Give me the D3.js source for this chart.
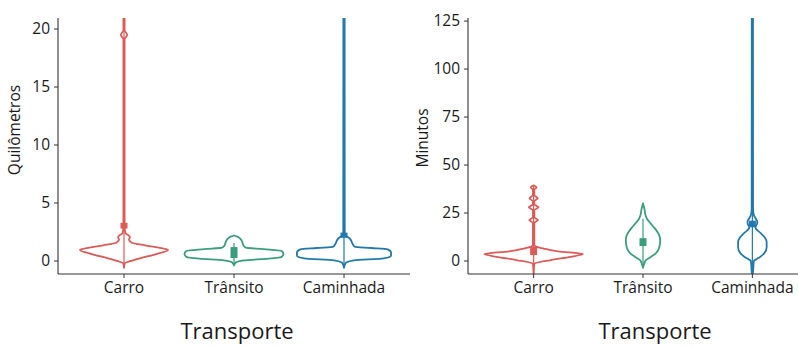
<!DOCTYPE html>
<html>
<head>
<meta charset="utf-8">
<script src="https://cdn.jsdelivr.net/npm/d3@7"></script>
<style>
  body { margin: 0; background: #fff; }
  svg { display: block; font-family: "Open Sans", "Noto Sans", sans-serif; }
</style>
</head>
<body>
<div id="chart"></div>
<script>
// data
const categories = ["Carro", "Trânsito", "Caminhada"];
const colors = ["#dd5b57", "#3a9d7c", "#2279ad"];
const kmTicks = [0, 5, 10, 15, 20];
const minTicks = [0, 25, 50, 75, 100, 125];

// violin outlines: [value, relative half width]
const kmCarro = [[-0.6, 0], [-0.2, 0.015], [0.2, 0.3], [0.6, 0.65], [0.95, 0.89], [1.15, 0.7], [1.35, 0.42], [1.6, 0.15],
  [1.85, 0.1], [2.05, 0.12], [2.25, 0.08], [2.4, 0.03], [3, 0.012], [19.1, 0.012], [19.5, 0.065], [19.9, 0.012], [26, 0.012], [27, 0]];
const kmTransito = [[-0.4, 0], [-0.15, 0.03], [0.05, 0.2], [0.2, 0.7], [0.35, 0.96], [0.6, 1.0], [0.85, 0.97], [1.02, 0.6],
  [1.15, 0.24], [1.35, 0.19], [1.6, 0.17], [1.8, 0.15], [1.95, 0.12], [2.1, 0.07], [2.2, 0]];
const kmCaminhada = [[-0.6, 0], [-0.2, 0.03], [0.05, 0.2], [0.22, 0.8], [0.45, 0.95], [0.75, 0.95], [1.0, 0.88], [1.12, 0.55],
  [1.22, 0.22], [1.5, 0.17], [1.8, 0.14], [2.0, 0.1], [2.15, 0.05], [2.3, 0.015], [26, 0.012], [27, 0]];
const kmBox = [[2.8, 3.3], [0.26, 1.2], [2.0, 2.45]];
const kmLine = [[-0.4, 26], [-0.35, 1.55], [-0.6, 26]];

const minCarro = [[-7, 0], [-1.5, 0.014], [0.5, 0.35], [2.2, 0.75], [3.6, 1.0], [5, 0.5], [6.5, 0.2], [7.5, 0.05], [8.5, 0.014],
  [19.8, 0.014], [21.3, 0.09], [22.8, 0.014], [26.5, 0.014], [28, 0.1], [29.5, 0.014], [31.2, 0.014], [32.7, 0.085], [34.2, 0.014],
  [37.2, 0.014], [38.4, 0.06], [39.4, 0]];
const minTransito = [[-3.6, 0], [-1, 0.03], [0.5, 0.06], [2, 0.15], [4, 0.26], [7, 0.33], [10.9, 0.35], [14, 0.32], [17, 0.24],
  [19.7, 0.15], [22, 0.08], [24, 0.05], [27, 0.03], [30, 0]];
const minCaminhada = [[-8, 0], [-6, 0.012], [0, 0.03], [0.8, 0.07], [2, 0.15], [4, 0.24], [7, 0.29], [9.9, 0.29], [12, 0.26],
  [14.5, 0.17], [16.5, 0.08], [17.6, 0.06], [19, 0.09], [20.5, 0.1], [22, 0.07], [24, 0.03], [27, 0.014], [140, 0.012]];
const minBox = [[3.1, 7.3], [7.8, 11.9], [17.6, 21]];
const minLine = [[-7, 39], [-3.6, 22], [-8, 140]];

const W = 798, H = 347;
const svg = d3.select("#chart").append("svg").attr("width", W).attr("height", H);

function drawPanel(opt) {
  const x = d3.scalePoint().domain(categories).range(opt.xRange).padding(0.6);
  const y = d3.scaleLinear().domain(opt.yDomain).range([274, 18]);
  const half = x.step() * 0.45;
  const wScale = d3.scaleLinear().domain([0, 1]).range([0, half]);

  const clipId = "clip-" + opt.id;
  svg.append("clipPath").attr("id", clipId)
    .append("rect").attr("x", opt.xRange[0]).attr("y", 18)
    .attr("width", opt.xRange[1] - opt.xRange[0]).attr("height", 256);

  const g = svg.append("g").attr("clip-path", `url(#${clipId})`);

  opt.violins.forEach((v, i) => {
    const cx = x(categories[i]);
    const area = d3.area()
      .y(d => y(d[0]))
      .x0(d => cx - wScale(d[1]))
      .x1(d => cx + wScale(d[1]))
      .curve(d3.curveMonotoneY);
    g.append("path")
      .attr("d", area(v))
      .attr("fill", "white")
      .attr("stroke", colors[i])
      .attr("stroke-width", 1.8)
      .attr("stroke-linejoin", "round");

    g.append("line")
      .attr("x1", cx).attr("x2", cx)
      .attr("y1", y(opt.lines[i][0])).attr("y2", y(opt.lines[i][1]))
      .attr("stroke", colors[i]).attr("stroke-width", 1.2);

    const b = opt.boxes[i];
    g.append("rect")
      .attr("x", cx - 3.5).attr("width", 7)
      .attr("y", y(b[1])).attr("height", y(b[0]) - y(b[1]))
      .attr("fill", colors[i]);
  });

  // axes
  const axisCol = "#333";
  svg.append("line").attr("x1", opt.xRange[0]).attr("x2", opt.xRange[0])
    .attr("y1", 18).attr("y2", 274).attr("stroke", axisCol).attr("stroke-width", 1.1);
  svg.append("line").attr("x1", opt.xRange[0]).attr("x2", opt.xRange[1])
    .attr("y1", 274).attr("y2", 274).attr("stroke", axisCol).attr("stroke-width", 1.1);

  opt.ticks.forEach(t => {
    svg.append("line").attr("x1", opt.xRange[0] - 4).attr("x2", opt.xRange[0])
      .attr("y1", y(t)).attr("y2", y(t)).attr("stroke", axisCol);
    svg.append("text").attr("x", opt.xRange[0] - 8).attr("y", y(t))
      .attr("dy", "0.35em").attr("text-anchor", "end")
      .attr("font-size", 15.5).attr("fill", "#1a1a1a").text(t);
  });
  categories.forEach(c => {
    svg.append("line").attr("x1", x(c)).attr("x2", x(c))
      .attr("y1", 274).attr("y2", 278).attr("stroke", axisCol);
    svg.append("text").attr("x", x(c)).attr("y", 293)
      .attr("text-anchor", "middle").attr("font-size", 15.5).attr("fill", "#1a1a1a").text(c);
  });

  svg.append("text")
    .attr("transform", `translate(${opt.yTitleX},${opt.yTitleY}) rotate(-90)`)
    .attr("text-anchor", "middle").attr("dy", "0.35em")
    .attr("font-size", 15.5).attr("fill", "#1a1a1a").text(opt.yTitle);
  svg.append("text").attr("x", opt.xTitleX).attr("y", 339)
    .attr("text-anchor", "middle").attr("font-size", 22).attr("fill", "#1a1a1a").text("Transporte");
}

drawPanel({
  id: "km", xRange: [58, 410], yDomain: [-1.12, 20.95], ticks: kmTicks,
  violins: [kmCarro, kmTransito, kmCaminhada], boxes: kmBox, lines: kmLine,
  yTitle: "Quilômetros", yTitleX: 15, yTitleY: 130, xTitleX: 237
});
drawPanel({
  id: "min", xRange: [468, 818], yDomain: [-6.77, 126.6], ticks: minTicks,
  violins: [minCarro, minTransito, minCaminhada], boxes: minBox, lines: minLine,
  yTitle: "Minutos", yTitleX: 423, yTitleY: 138, xTitleX: 655
});
</script>
</body>
</html>
